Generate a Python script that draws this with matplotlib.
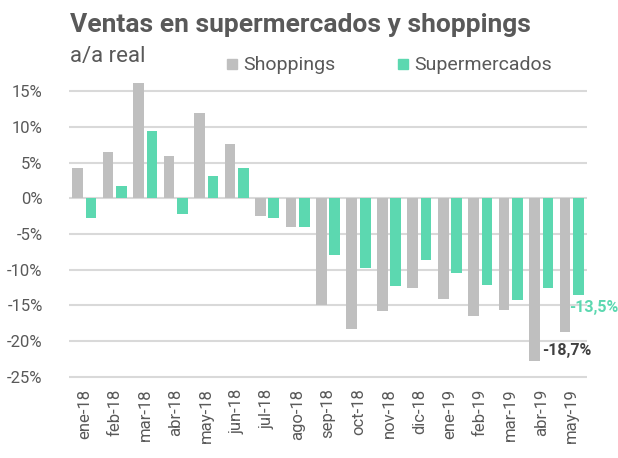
import numpy as np
import matplotlib.pyplot as plt

plt.rcParams['font.family'] = ['Roboto', 'DejaVu Sans']

months = ['ene-18', 'feb-18', 'mar-18', 'abr-18', 'may-18', 'jun-18', 'jul-18', 'ago-18',
          'sep-18', 'oct-18', 'nov-18', 'dic-18', 'ene-19', 'feb-19', 'mar-19', 'abr-19', 'may-19']
shoppings = [4.3, 6.5, 16.2, 6.0, 12.0, 7.7, -2.4, -4.0,
             -14.9, -18.3, -15.8, -12.6, -14.1, -16.5, -15.6, -22.8, -18.7]
supermercados = [-2.7, 1.7, 9.5, -2.2, 3.1, 4.2, -2.8, -4.0,
                 -7.9, -9.8, -12.3, -8.6, -10.5, -12.1, -14.3, -12.5, -13.5]
yticks = [15, 10, 5, 0, -5, -10, -15, -20, -25]

gray = '#BFBFBF'
green = '#5CD8B0'
txt = '#595959'

fig = plt.figure(figsize=(6.18, 4.58), dpi=100, facecolor='white')
ax = fig.add_axes([0.1117, 0.1729, 0.8382, 0.6585])

x = np.arange(len(months))
w = 0.35
ax.bar(x - 0.22, shoppings, w, color=gray, zorder=3)
ax.bar(x + 0.22, supermercados, w, color=green, zorder=3)

ax.set_xlim(-0.5, len(months) - 0.5)
ax.set_ylim(-25.3, 17)
ax.set_yticks(yticks)
ax.set_yticklabels([f'{v}%' for v in yticks])
ax.set_xticks(x)
ax.set_xticklabels(months, rotation=90)
ax.tick_params(axis='both', length=0, labelsize=12, labelcolor=txt)
ax.tick_params(axis='y', pad=19)
ax.tick_params(axis='x', pad=7)
ax.yaxis.grid(True, color='#D9D9D9', linewidth=1.5, zorder=0)
ax.set_axisbelow(True)
for s in ax.spines.values():
    s.set_visible(False)

# end labels
ax.text(x[-1] - 0.98, shoppings[-1] - 2.6, '-18,7%', color='#404040', fontsize=11.5,
        fontweight='bold', ha='left', va='center')
ax.text(x[-1] - 0.1, supermercados[-1] - 1.8, '-13,5%', color=green, fontsize=11.5,
        fontweight='bold', ha='left', va='center', clip_on=False)

# header
fig.text(70 / 618, 1 - 32.3 / 458, 'Ventas en supermercados y shoppings', fontsize=19,
         fontweight='bold', color=txt, ha='left', va='baseline')
fig.text(70 / 618, 1 - 61.7 / 458, 'a/a real', fontsize=16, color=txt, ha='left', va='baseline')
fig.patches.append(plt.Rectangle((227 / 618, 1 - 69.3 / 458), 10 / 618, 10 / 458,
                                 transform=fig.transFigure, color=gray))
fig.text(243 / 618, 1 - 70 / 458, 'Shoppings', fontsize=14, color=txt, ha='left', va='baseline')
fig.patches.append(plt.Rectangle((398 / 618, 1 - 69.3 / 458), 10 / 618, 10 / 458,
                                 transform=fig.transFigure, color=green))
fig.text(414 / 618, 1 - 70 / 458, 'Supermercados', fontsize=14, color=txt, ha='left', va='baseline')

fig.savefig('out.png', dpi=100, facecolor='white')
